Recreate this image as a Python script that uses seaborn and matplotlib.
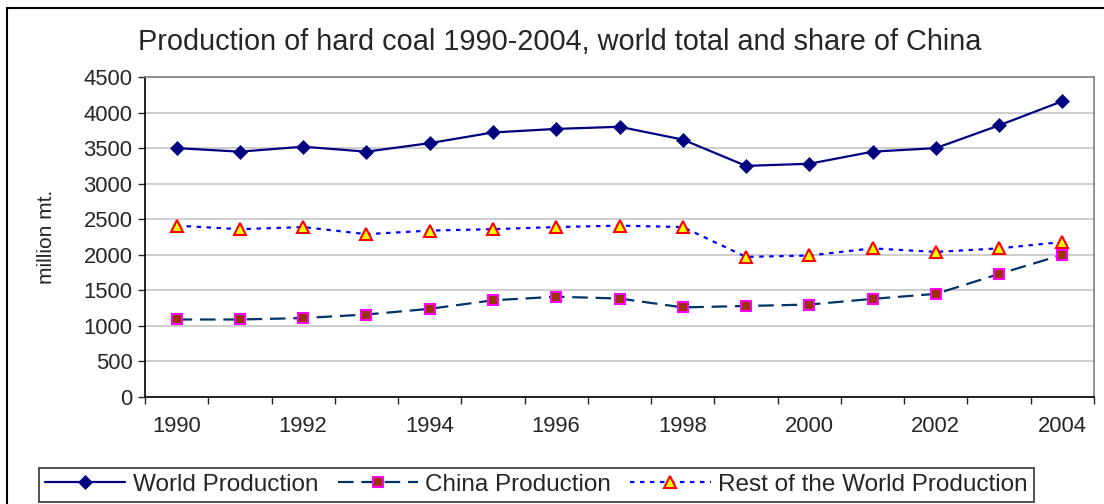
import pandas as pd
import numpy as np
import seaborn as sns
import matplotlib.pyplot as plt
from matplotlib.patches import Rectangle
from matplotlib.ticker import FixedLocator, MultipleLocator

# %%
years = [1990, 1991, 1992, 1993, 1994, 1995, 1996, 1997, 1998, 1999, 2000, 2001, 2002, 2003, 2004]
world = [3500, 3450, 3520, 3450, 3570, 3720, 3770, 3800, 3620, 3250, 3280, 3450, 3500, 3820, 4160]
china = [1090, 1090, 1110, 1160, 1240, 1360, 1410, 1385, 1260, 1280, 1300, 1380, 1450, 1730, 2000]
rest = [2410, 2360, 2390, 2290, 2340, 2360, 2390, 2410, 2390, 1970, 1990, 2090, 2040, 2090, 2180]
year_labels = [str(y) if i % 2 == 0 else '' for i, y in enumerate(years)]

df = pd.DataFrame({'pos': np.arange(len(years)), 'year': years,
                   'World Production': world,
                   'China Production': china,
                   'Rest of the World Production': rest})

# %%
sns.set_style('white')
plt.rcParams['font.family'] = ['Liberation Sans', 'DejaVu Sans']

fig = plt.figure(figsize=(11.04, 5.04), dpi=100)
ax = fig.add_axes([145 / 1104, 1 - 397 / 504, (1094 - 145) / 1104, 320 / 504])

sns.lineplot(data=df, x='pos', y='World Production', ax=ax, color='#000080', lw=1.6,
             marker='D', markersize=7.5, markerfacecolor='#000080', markeredgecolor='#000080',
             markeredgewidth=0.5, label='World Production')
sns.lineplot(data=df, x='pos', y='China Production', ax=ax, color='#003366', lw=1.6,
             linestyle=(0, (7, 3.5)), marker='s', markersize=7.5, markerfacecolor='#993300',
             markeredgecolor='#FF00FF', markeredgewidth=1.5, label='China Production')
sns.lineplot(data=df, x='pos', y='Rest of the World Production', ax=ax, color='#0000FF', lw=1.6,
             linestyle=(0, (2, 2.5)), marker='^', markersize=8.5, markerfacecolor='#FFFF00',
             markeredgecolor='#FF0000', markeredgewidth=1.5, label='Rest of the World Production')

ax.set_xlim(-0.5, len(years) - 0.5)
ax.set_ylim(0, 4500)
ax.yaxis.set_major_locator(MultipleLocator(500))
ax.grid(axis='y', color='#C0C0C0', lw=1.1)
ax.set_axisbelow(True)

ax.set_xticks(df['pos'])
ax.set_xticklabels(year_labels, fontsize=15.8)
ax.tick_params(axis='x', which='major', length=0, pad=14)
ax.xaxis.set_minor_locator(FixedLocator(np.arange(-0.5, len(years), 1)))
ax.tick_params(axis='x', which='minor', length=5, width=1, direction='out', bottom=True)
ax.tick_params(axis='y', length=5, width=1, direction='out', left=True, labelsize=15.8, pad=4)

for s in ['top', 'right']:
    ax.spines[s].set_color('#808080')
    ax.spines[s].set_linewidth(1.2)
for s in ['left', 'bottom']:
    ax.spines[s].set_color('black')
    ax.spines[s].set_linewidth(1.2)

ax.set_xlabel('')
ax.set_ylabel('million mt.', fontsize=15, labelpad=20)
ax.legend().remove()

fig.text(560 / 1104, 1 - 42 / 504, 'Production of hard coal 1990-2004, world total and share of China',
         ha='center', va='center', fontsize=20.8)

handles, labels = ax.get_legend_handles_labels()
leg = fig.legend(handles, labels, loc='lower left', ncol=3,
                 bbox_to_anchor=(39 / 1104, 1 - 502 / 504), frameon=True, fancybox=False,
                 edgecolor='black', fontsize=17.5, handlelength=3.3, handletextpad=0.3,
                 columnspacing=0.8, borderpad=0.25, borderaxespad=0)
leg.get_frame().set_linewidth(1.2)

# outer chart border
fig.patches.append(Rectangle((7 / 1104, -0.1), 1.2, 1.1 - 8 / 504, transform=fig.transFigure,
                             fill=False, edgecolor='black', lw=1.5))

plt.savefig('out.png', dpi=100)
